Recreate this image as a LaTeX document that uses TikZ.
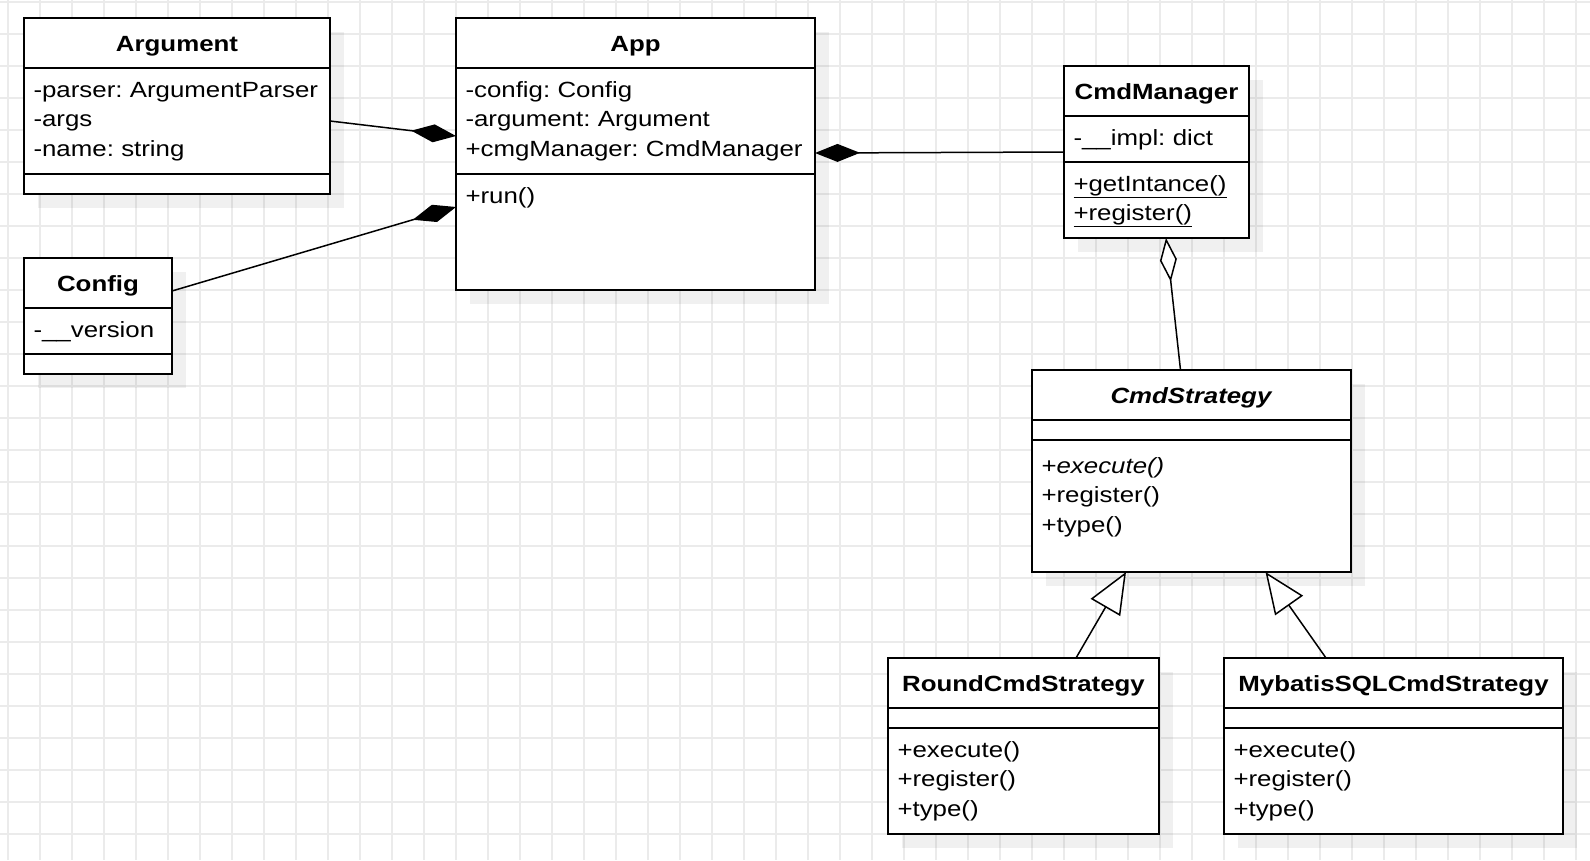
\documentclass[tikz,border=0pt]{standalone}
\usepackage{fontspec}
\setmainfont{Liberation Sans}[FakeStretch=1.175]
\usepackage{tikz}
\usetikzlibrary{arrows.meta,positioning,backgrounds,calc}
\definecolor{ink}{HTML}{000000}
\definecolor{gridc}{HTML}{EBEBEB}

\begin{document}
\begin{tikzpicture}[x=1pt,y=1pt,
  box/.style={draw=ink,line width=2pt,fill=white,inner xsep=9.5pt,inner ysep=0pt,outer sep=0pt,
    font=\fontsize{22pt}{29.7pt}\selectfont},
  hd/.style={box,align=center,text height=33.5pt,text depth=16.5pt,
    font=\fontsize{22pt}{29.7pt}\selectfont\bfseries},
  fld/.style={box,align=left,text height=29pt,text depth=#1},
  nil/.style={box,text height=20pt,text depth=0pt},
  cmp/.style={draw=ink,line width=1.5pt,-{Diamond[length=45pt,width=18pt]}},
  agg/.style={draw=ink,line width=1.5pt,-{Diamond[open,fill=white,length=44pt,width=17pt]}},
  gen/.style={draw=ink,line width=1.5pt,-{Triangle[open,fill=white,length=41pt,width=34pt]}},
  gridln/.style={draw=gridc,line width=1.3pt},
  shade/.style={fill=black,fill opacity=0.06}]
 \useasboundingbox (0,0) rectangle (1590,-860);
 % classes, left column
 \node[hd,text width=287pt,anchor=north west] (arg) at (24,-18) {Argument};
 \node[fld=77pt,text width=287pt,below=0pt of arg] (arg-a) {-parser:~ArgumentParser\\-args\\-name:~string};
 \node[nil,text width=287pt,below=0pt of arg-a] (arg-o) {};
 \node[hd,text width=129pt,anchor=north west] (cfg) at (24,-258) {Config};
 \node[fld=17pt,text width=129pt,below=0pt of cfg] (cfg-a) {-\_\_version};
 \node[nil,text width=129pt,below=0pt of cfg-a] (cfg-o) {};
 % App
 \node[hd,text width=340pt,anchor=north west] (app) at (456,-18) {App};
 \node[fld=77pt,text width=340pt,below=0pt of app] (app-a) {-config:~Config\\-argument:~Argument\\+cmgManager:~CmdManager};
 \node[fld=87pt,text width=340pt,below=0pt of app-a] (app-o) {+run()};
 % manager and strategies
 \node[hd,text width=166pt,anchor=north west] (mgr) at (1064,-66) {CmdManager};
 \node[fld=17pt,text width=166pt,below=0pt of mgr] (mgr-a) {-\_\_impl:~dict};
 \node[fld=47pt,text width=166pt,below=0pt of mgr-a] (mgr-o) {\underline{+getIntance()}\\\underline{+register()}};
 \node[hd,text width=300pt,anchor=north west] (stg) at (1032,-370) {\textit{CmdStrategy}};
 \node[nil,text width=300pt,below=0pt of stg] (stg-a) {};
 \node[fld=99pt,text height=33pt,text width=300pt,below=0pt of stg-a] (stg-o) {+\textit{execute()}\\+register()\\+type()};
 \node[hd,text width=252pt,anchor=north west] (rnd) at (888,-658) {RoundCmdStrategy};
 \node[nil,text width=252pt,below=0pt of rnd] (rnd-a) {};
 \node[fld=77pt,text width=252pt,below=0pt of rnd-a] (rnd-o) {+execute()\\+register()\\+type()};
 \node[hd,text width=320pt,anchor=north west] (myb) at (1224,-658) {MybatisSQLCmdStrategy};
 \node[nil,text width=320pt,below=0pt of myb] (myb-a) {};
 \node[fld=77pt,text width=320pt,below=0pt of myb-a] (myb-o) {+execute()\\+register()\\+type()};
 % relations
 \draw[cmp] (arg-a.east) -- ([yshift=-15pt]app-a.west);
 \draw[cmp] ([yshift=-8pt]cfg.east) -- ([yshift=25pt]app-o.west);
 \draw[cmp] ([yshift=-13pt]mgr-a.west) -- ([yshift=-32pt]app-a.east);
 \draw[agg] ([xshift=-11pt]stg.north) -- ([xshift=9.5pt]mgr-o.south);
 \draw[gen] ([xshift=52.5pt]rnd.north) -- ([xshift=-65.5pt]stg-o.south);
 \draw[gen] ([xshift=-67.5pt]myb.north) -- ([xshift=74pt]stg-o.south);
 % grid and shadows
 \begin{scope}[on background layer]
  \fill[white] (0,0) rectangle (1590,-860);
  \foreach \gx in {8,40,...,1590} \draw[gridln] (\gx,0) -- (\gx,-860);
  \foreach \gy in {2,34,...,860} \draw[gridln] (0,-\gy) -- (1590,-\gy);
  \foreach \cHead/\cTail in {arg/arg-o,app/app-o,cfg/cfg-o,mgr/mgr-o,stg/stg-o,rnd/rnd-o,myb/myb-o}
   \fill[shade] ($(\cHead.north west)+(14,-14)$) rectangle ($(\cTail.south east)+(14,-14)$);
 \end{scope}
\end{tikzpicture}
\end{document}
